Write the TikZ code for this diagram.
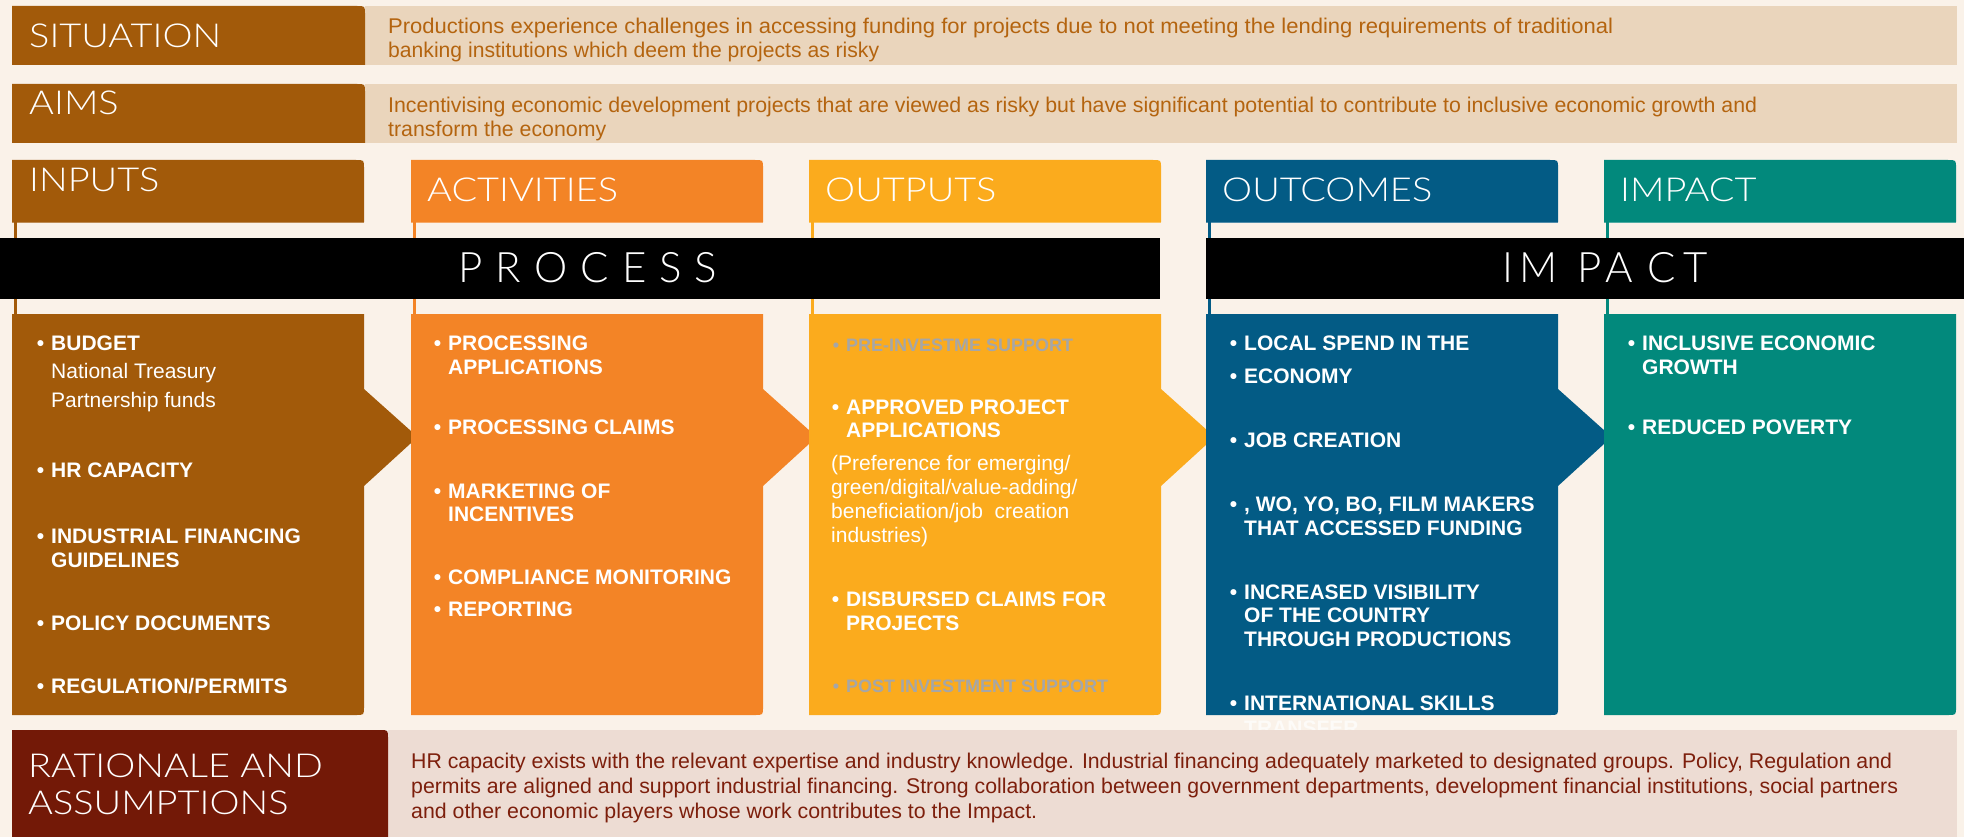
\documentclass[tikz,border=0pt]{standalone}
\usepackage{graphicx}
\usepackage{fontspec}
\setmainfont{Liberation Sans}
\newfontfamily\hdrfont{Lato Light}[FakeStretch=1.15]
\newfontfamily\barfont{Lato Light}
\definecolor{cBg}{HTML}{FAF2E9}
\definecolor{cBrown}{HTML}{A25A0A}
\definecolor{cTan}{HTML}{EAD5BC}
\definecolor{cTanText}{HTML}{B4640F}
\definecolor{cOrange}{HTML}{F38426}
\definecolor{cYellow}{HTML}{FBAB1D}
\definecolor{cBlue}{HTML}{035B85}
\definecolor{cTeal}{HTML}{02897C}
\definecolor{cDark}{HTML}{731907}
\definecolor{cRose}{HTML}{EDDCD3}
\definecolor{cRoseText}{HTML}{7D1F0C}
\definecolor{cGrey}{HTML}{A5A6A8}
\newcommand\bu{\llap{\textbullet\hspace{7pt}}}
\newcommand\ls{\hspace{13pt}}
\newcommand\hs[2]{\scalebox{#1}[1]{#2}}
% set a line to a given width (in pt) by horizontal scaling only
\newsavebox\linebox
\newcommand\fitw[2]{\sbox\linebox{#2}\edef\natw{\the\wd\linebox}\pgfmathsetmacro\fac{#1/\natw}\scalebox{\fac}[1]{\usebox\linebox}}
\begin{document}
\begin{tikzpicture}[x=1pt,y=-1pt,
  hdr/.style={anchor=west,inner sep=0pt,text=white,font=\hdrfont\fontsize{33}{36}\selectfont,text height=23.6pt,text depth=0pt},
  bar/.style={inner sep=0pt,text=white,font=\barfont\fontsize{42}{44}\selectfont,text height=30pt,text depth=0pt},
  sit/.style={anchor=west,inner sep=0pt,text=cTanText,font=\fontsize{21.3}{24}\selectfont,text height=15.2pt,text depth=0pt},
  rat/.style={anchor=west,inner sep=0pt,text=cRoseText,font=\fontsize{21.3}{24}\selectfont,text height=15.2pt,text depth=0pt},
  bt/.style={anchor=west,inner sep=0pt,text=white,font=\bfseries\fontsize{21}{24}\selectfont,text height=15pt,text depth=0pt},
  rt/.style={anchor=west,inner sep=0pt,text=white,font=\fontsize{21}{24}\selectfont,text height=15pt,text depth=0pt},
  gt/.style={anchor=west,inner sep=0pt,text=cGrey,font=\bfseries\fontsize{18}{22}\selectfont,text height=12.9pt,text depth=0pt}]
\fill[cBg] (0,0) rectangle (1964,837);
\useasboundingbox (0,0) rectangle (1964,837);

% situation and aims rows
\foreach \t in {6,84}{
  \fill[cTan] (365,\t) rectangle (1957,{\t+59});
  \fill[cBrown] (12,{\t+59}) -- (12,\t) -- (357,\t) .. controls (365,\t) .. (365,{\t+8}) -- (365,{\t+59}) -- cycle;
}
\node[hdr] (sitL) at (29,35.5) {SITUATION};
\node[hdr] (aimL) at (29,103) {AIMS};
\node[sit] (sit1) at (388,26) {\fitw{1225}{Productions experience challenges in accessing funding for projects due to not meeting the lending requirements of traditional}};
\node[sit] (sit2) at (388,50) {\fitw{491}{banking institutions which deem the projects as risky}};
\node[sit] (aim1) at (388,104.5) {\fitw{1369}{Incentivising economic development projects that are viewed as risky but have significant potential to contribute to inclusive economic growth and}};
\node[sit] (aim2) at (388,128.5) {\fitw{218}{transform the economy}};

% columns: header, thin connecting rule, body with chevron
\foreach \L/\c in {12/cBrown,411/cOrange,809/cYellow,1206/cBlue,1604/cTeal}{
  \fill[\c] (\L,222) -- (\L,160) -- ({\L+344},160) .. controls ({\L+352},160) .. ({\L+352},168) -- ({\L+352},222) -- cycle;
  \draw[\c!70!white,line width=0.8pt] (\L,222) -- ({\L+352},222);
  \fill[\c] ({\L+1.5},222) rectangle ({\L+4.5},314);
}
\foreach \L/\c in {12/cBrown,411/cOrange,809/cYellow,1206/cBlue}{
  \fill[\c] (\L,314) -- ({\L+352},314) -- ({\L+352},389) -- ({\L+404},435.5) .. controls ({\L+406},437) .. ({\L+404},438.5) -- ({\L+352},486) -- ({\L+352},707) .. controls ({\L+352},715) .. ({\L+344},715) -- (\L,715) -- cycle;
}
\fill[cTeal] (1604,314) -- (1956,314) -- (1956,707) .. controls (1956,715) .. (1948,715) -- (1604,715) -- cycle;

% black banners
\fill[black] (0,238) rectangle (1160,299);
\fill[black] (1206,238) rectangle (1964,299);
\node[bar] (proc) at (588,267) {P\ls R\ls O\ls C\ls E\ls S\ls S};
\node[bar] (imp) at (1605,267) {I\hspace{6pt}M\hspace{20pt}P\hspace{4pt}A\hspace{14pt}C\hspace{8pt}T};

% column headings
\node[hdr] (hIn) at (29,180) {INPUTS};
\node[hdr] (hAct) at (427,190) {ACTIVITIES};
\node[hdr] (hOut) at (825,190) {OUTPUTS};
\node[hdr] (hOc) at (1222,190) {OUTCOMES};
\node[hdr] (hImp) at (1620,190) {IMPACT};

% inputs
\node[bt] (i1) at (51,343) {\bu BUDGET};
\node[rt] (i1a) at (51,371) {National Treasury};
\node[rt] (i1b) at (51,400) {Partnership funds};
\node[bt] (i2) at (51,470) {\bu HR CAPACITY};
\node[bt] (i3) at (51,536) {\bu INDUSTRIAL FINANCING};
\node[bt] (i3b) at (51,560) {GUIDELINES};
\node[bt] (i4) at (51,623) {\bu POLICY DOCUMENTS};
\node[bt] (i5) at (51,686) {\bu REGULATION/PERMITS};

% activities
\node[bt] (a1) at (448,343) {\bu PROCESSING};
\node[bt] (a1b) at (448,367) {APPLICATIONS};
\node[bt] (a2) at (448,427) {\bu PROCESSING CLAIMS};
\node[bt] (a3) at (448,491) {\bu MARKETING OF};
\node[bt] (a3b) at (448,514) {INCENTIVES};
\node[bt] (a4) at (448,577) {\bu COMPLIANCE MONITORING};
\node[bt] (a5) at (448,609) {\bu REPORTING};

% outputs
\node[gt] (o1) at (846,345) {\bu PRE-INVESTME SUPPORT};
\node[bt] (o2) at (846,407) {\bu APPROVED PROJECT};
\node[bt] (o2b) at (846,430) {APPLICATIONS};
\node[rt] (o2c) at (831,463) {(Preference for emerging/};
\node[rt] (o2d) at (831,487) {green/digital/value-adding/};
\node[rt] (o2e) at (831,511) {beneficiation/job\ \ creation};
\node[rt] (o2f) at (831,535) {industries)};
\node[bt] (o3) at (846,599) {\bu DISBURSED CLAIMS FOR};
\node[bt] (o3b) at (846,623) {PROJECTS};
\node[gt] (o4) at (846,686) {\bu POST INVESTMENT SUPPORT};

% outcomes
\node[bt] (c1) at (1244,343) {\bu LOCAL SPEND IN THE};
\node[bt] (c2) at (1244,376) {\bu ECONOMY};
\node[bt] (c3) at (1244,440) {\bu JOB CREATION};
\node[bt] (c4) at (1244,504) {\bu , WO, YO, BO, FILM MAKERS};
\node[bt] (c4b) at (1244,528) {THAT ACCESSED FUNDING};
\node[bt] (c5) at (1244,592) {\bu INCREASED VISIBILITY};
\node[bt] (c5b) at (1244,615) {OF THE COUNTRY};
\node[bt] (c5c) at (1244,639) {THROUGH PRODUCTIONS};
\node[bt] (c6) at (1244,703) {\bu INTERNATIONAL SKILLS};
\node[bt,text=white!70!cBg] (c6b) at (1244,728) {TRANSFER};

% impact
\node[bt] (m1) at (1642,343) {\bu INCLUSIVE ECONOMIC};
\node[bt] (m1b) at (1642,367) {GROWTH};
\node[bt] (m2) at (1642,427) {\bu REDUCED POVERTY};

% rationale and assumptions
\fill[cRose] (388,730) rectangle (1957,837);
\fill[cDark] (12,837) -- (12,730) -- (380,730) .. controls (388,730) .. (388,738) -- (388,837) -- cycle;
\node[hdr] (rL1) at (28,766) {RATIONALE AND};
\node[hdr] (rL2) at (28,803) {ASSUMPTIONS};
\node[rat] (r1) at (411,761) {\fitw{1481}{HR capacity exists with the relevant expertise and industry knowledge. Industrial financing adequately marketed to designated groups. Policy, Regulation and}};
\node[rat] (r2) at (411,786) {\fitw{1487}{permits are aligned and support industrial financing. Strong collaboration between government departments, development financial institutions, social partners}};
\node[rat] (r3) at (411,811) {\fitw{626}{and other economic players whose work contributes to the Impact.}};
\end{tikzpicture}
\end{document}
